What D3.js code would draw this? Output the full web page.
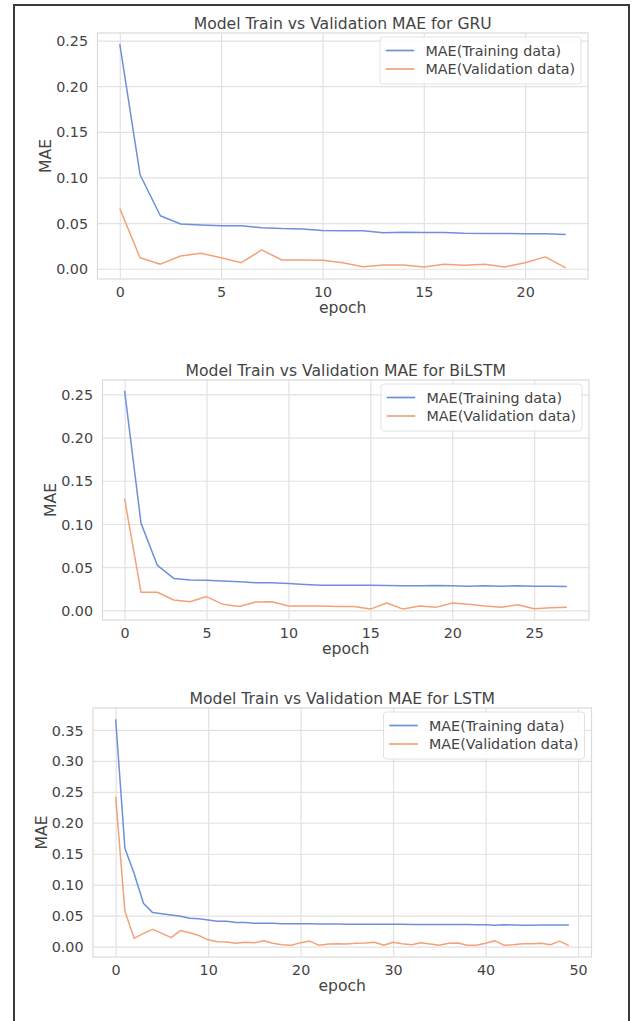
<!DOCTYPE html>
<html>
<head>
<meta charset="utf-8">
<script src="https://cdn.jsdelivr.net/npm/d3@7"></script>
<style>
  html, body { margin: 0; padding: 0; background: #fff; }
  svg { display: block; }
  text { font-family: "DejaVu Sans", sans-serif; }
</style>
</head>
<body>
<svg id="chart" width="635" height="1021"></svg>
<script>
// ---------- DATA ----------
const titles = [
  "Model Train vs Validation MAE for GRU",
  "Model Train vs Validation MAE for BiLSTM",
  "Model Train vs Validation MAE for LSTM"
];
const legendLabels = ["MAE(Training data)", "MAE(Validation data)"];
const xLabel = "epoch";
const yLabel = "MAE";

const gruTrain = [0.246, 0.103, 0.058, 0.049, 0.048, 0.047, 0.047, 0.045, 0.044, 0.0435,
  0.042, 0.0415, 0.0415, 0.0395, 0.040, 0.0398, 0.0398, 0.039, 0.0387, 0.0387,
  0.0383, 0.0383, 0.0376];
const gruVal = [0.066, 0.012, 0.005, 0.014, 0.017, 0.012, 0.0066, 0.0206, 0.0096, 0.0096,
  0.0092, 0.0066, 0.0022, 0.004, 0.004, 0.002, 0.005, 0.0037, 0.005, 0.002,
  0.0066, 0.013, 0.001];

const bilstmTrain = [0.254, 0.101, 0.052, 0.037, 0.0353, 0.035, 0.034, 0.033, 0.032, 0.032,
  0.031, 0.030, 0.029, 0.029, 0.029, 0.029, 0.0288, 0.0284, 0.0284, 0.0288,
  0.0284, 0.028, 0.0284, 0.028, 0.0284, 0.028, 0.028, 0.0276];
const bilstmVal = [0.129, 0.021, 0.021, 0.012, 0.010, 0.016, 0.007, 0.0046, 0.0096, 0.010,
  0.005, 0.005, 0.005, 0.0046, 0.0046, 0.0015, 0.0085, 0.0015, 0.005, 0.0035,
  0.0085, 0.007, 0.005, 0.0035, 0.0065, 0.002, 0.003, 0.0035];

const lstmTrain = [0.367, 0.159, 0.118, 0.070, 0.055, 0.053, 0.051, 0.049, 0.046, 0.045,
  0.043, 0.041, 0.041, 0.039, 0.039, 0.038, 0.038, 0.038, 0.037, 0.0372,
  0.037, 0.037, 0.0368, 0.0368, 0.0366, 0.0362, 0.0362, 0.0362, 0.036, 0.036,
  0.036, 0.036, 0.0358, 0.0358, 0.0358, 0.0356, 0.0356, 0.0356, 0.0356, 0.0355,
  0.0355, 0.0345, 0.0355, 0.035, 0.0345, 0.0345, 0.035, 0.035, 0.035, 0.0348];
const lstmVal = [0.242, 0.057, 0.0135, 0.0215, 0.028, 0.0215, 0.0145, 0.026, 0.0226, 0.018,
  0.011, 0.008, 0.0075, 0.0054, 0.007, 0.0065, 0.0097, 0.0054, 0.0032, 0.0022,
  0.0065, 0.009, 0.0022, 0.0043, 0.0048, 0.0043, 0.0054, 0.006, 0.007, 0.0022,
  0.007, 0.0048, 0.0032, 0.0065, 0.0043, 0.0022, 0.0054, 0.006, 0.0022, 0.0022,
  0.0054, 0.0097, 0.0022, 0.0032, 0.0048, 0.0048, 0.0054, 0.0032, 0.009, 0.0016];

const xTicks1 = [0, 5, 10, 15, 20];
const xTicks2 = [0, 5, 10, 15, 20, 25];
const xTicks3 = [0, 10, 20, 30, 40, 50];
const yTicks1 = [0, 0.05, 0.10, 0.15, 0.20, 0.25];
const yTicks2 = [0, 0.05, 0.10, 0.15, 0.20, 0.25];
const yTicks3 = [0, 0.05, 0.10, 0.15, 0.20, 0.25, 0.30, 0.35];

// ---------- LAYOUT ----------
const panels = [
  { title: titles[0], train: gruTrain, val: gruVal, xTicks: xTicks1, yTicks: yTicks1,
    box: { l: 97.5, r: 588, t: 33, b: 279 } },
  { title: titles[1], train: bilstmTrain, val: bilstmVal, xTicks: xTicks2, yTicks: yTicks2,
    box: { l: 102.5, r: 589, t: 380, b: 620 } },
  { title: titles[2], train: lstmTrain, val: lstmVal, xTicks: xTicks3, yTicks: yTicks3,
    box: { l: 93, r: 591.5, t: 708, b: 957 } }
];

const colors = { train: "#6e90dc", val: "#f3a277" };
const gridColor = "#e2e2e2";
const frameColor = "#dadada";
const textColor = "#444444";
const tickFont = 14.3;
const labelFont = 15.6;

const svg = d3.select("#chart");

// outer border (no bottom edge visible)
svg.append("path")
  .attr("d", "M14,1021 L14,5 L629,5 L629,1021")
  .attr("fill", "none").attr("stroke", "#3a3a3a").attr("stroke-width", 2);

function mplDomain(ext) {
  const m = (ext[1] - ext[0]) * 0.05;
  return [ext[0] - m, ext[1] + m];
}

panels.forEach(p => {
  const b = p.box;
  const n = p.train.length;
  const x = d3.scaleLinear().domain(mplDomain([0, n - 1])).range([b.l, b.r]);
  const allY = p.train.concat(p.val);
  const y = d3.scaleLinear().domain(mplDomain(d3.extent(allY))).range([b.b, b.t]);

  const g = svg.append("g");

  // grid via axes
  g.append("g")
    .attr("transform", `translate(0,${b.b})`)
    .call(d3.axisBottom(x).tickValues(p.xTicks).tickSize(-(b.b - b.t)).tickFormat(""))
    .call(s => s.select(".domain").remove())
    .call(s => s.selectAll("line").attr("stroke", gridColor).attr("stroke-width", 1.2));
  g.append("g")
    .attr("transform", `translate(${b.l},0)`)
    .call(d3.axisLeft(y).tickValues(p.yTicks).tickSize(-(b.r - b.l)).tickFormat(""))
    .call(s => s.select(".domain").remove())
    .call(s => s.selectAll("line").attr("stroke", gridColor).attr("stroke-width", 1.2));

  // frame
  g.append("rect")
    .attr("x", b.l).attr("y", b.t).attr("width", b.r - b.l).attr("height", b.b - b.t)
    .attr("fill", "none").attr("stroke", frameColor).attr("stroke-width", 1.2);

  // tick labels
  const xa = g.append("g")
    .attr("transform", `translate(0,${b.b})`)
    .call(d3.axisBottom(x).tickValues(p.xTicks).tickSize(0).tickPadding(0).tickFormat(d3.format("d")));
  xa.select(".domain").remove();
  xa.selectAll("text")
    .attr("y", 18).attr("dy", 0)
    .attr("font-size", tickFont).attr("fill", textColor)
    .attr("font-family", "DejaVu Sans");

  const ya = g.append("g")
    .attr("transform", `translate(${b.l},0)`)
    .call(d3.axisLeft(y).tickValues(p.yTicks).tickSize(0).tickPadding(0).tickFormat(d3.format(".2f")));
  ya.select(".domain").remove();
  ya.selectAll("text")
    .attr("x", -9.5).attr("dy", "0.36em")
    .attr("font-size", tickFont).attr("fill", textColor)
    .attr("font-family", "DejaVu Sans");

  // lines
  const line = d3.line().x((d, i) => x(i)).y(d => y(d));
  g.append("path").datum(p.train).attr("d", line)
    .attr("fill", "none").attr("stroke", colors.train).attr("stroke-width", 1.5)
    .attr("stroke-linejoin", "round");
  g.append("path").datum(p.val).attr("d", line)
    .attr("fill", "none").attr("stroke", colors.val).attr("stroke-width", 1.5)
    .attr("stroke-linejoin", "round");

  // title
  g.append("text")
    .attr("x", (b.l + b.r) / 2).attr("y", b.t - 4.5)
    .attr("text-anchor", "middle").attr("font-size", labelFont).attr("fill", textColor)
    .text(p.title);

  // x label
  g.append("text")
    .attr("x", (b.l + b.r) / 2).attr("y", b.b + 34)
    .attr("text-anchor", "middle").attr("font-size", labelFont).attr("fill", textColor)
    .text(xLabel);

  // y label
  const yl = b.l - 46.5, yc = (b.t + b.b) / 2;
  g.append("text")
    .attr("transform", `translate(${yl},${yc}) rotate(-90)`)
    .attr("text-anchor", "middle").attr("font-size", labelFont).attr("fill", textColor)
    .text(yLabel);

  // legend
  const lw = 201, lh = 47;
  const lx = b.r - 7 - lw, ly = b.t + 4;
  const lg = g.append("g");
  lg.append("rect")
    .attr("x", lx).attr("y", ly).attr("width", lw).attr("height", lh)
    .attr("rx", 3).attr("fill", "rgba(255,255,255,0.85)")
    .attr("stroke", "#e2e2e2").attr("stroke-width", 1);
  const rows = [
    { label: legendLabels[0], color: colors.train, dy: 13.5 },
    { label: legendLabels[1], color: colors.val, dy: 32 }
  ];
  rows.forEach(r => {
    lg.append("line")
      .attr("x1", lx + 5.7).attr("x2", lx + 34.3)
      .attr("y1", ly + r.dy).attr("y2", ly + r.dy)
      .attr("stroke", r.color).attr("stroke-width", 1.7);
    lg.append("text")
      .attr("x", lx + 45.5).attr("y", ly + r.dy).attr("dy", "0.36em")
      .attr("font-size", tickFont).attr("fill", textColor)
      .text(r.label);
  });
});
</script>
</body>
</html>
